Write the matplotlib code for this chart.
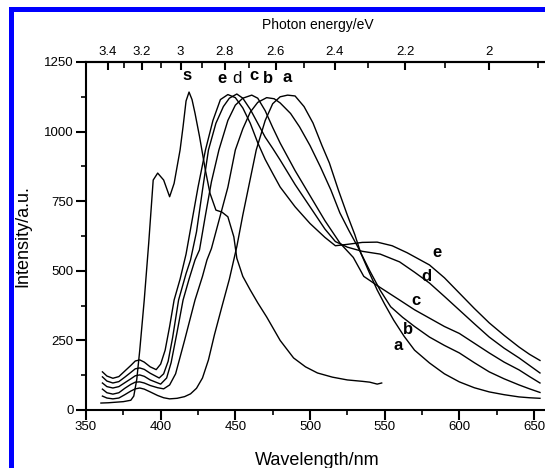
import numpy as np
import matplotlib
matplotlib.use('Agg')
import matplotlib.pyplot as plt
from matplotlib.patches import Rectangle
from matplotlib.ticker import MultipleLocator, FixedLocator

plt.rcParams['font.family'] = ['Liberation Sans', 'DejaVu Sans']

# ---- data ----
wl_s = [360, 365, 370, 375, 380, 382, 384, 386, 389, 392, 395, 398, 402, 406, 409, 413, 415, 417, 419, 421,
        423, 426, 430, 433, 437, 441, 445, 449, 451, 455, 460, 465, 471, 480, 489, 497, 505, 515, 525, 535,
        540, 545, 548]
I_s = [25, 26, 28, 30, 35, 50, 110, 215, 395, 600, 826, 851, 826, 766, 814, 934, 1018, 1110, 1142, 1115,
       1066, 983, 860, 779, 718, 711, 694, 622, 545, 480, 431, 385, 334, 250, 187, 155, 133, 118, 108, 103,
       100, 93, 97]

wl_e = [361, 364, 368, 372, 376, 380, 383, 386, 389, 393, 397, 400, 403, 406, 409, 413, 417, 421, 425, 430,
        435, 440, 445, 450, 455, 460, 465, 470, 475, 480, 490, 500, 510, 517, 525, 535, 545, 555, 565, 580,
        590, 600, 610, 620, 630, 640, 647, 654]
I_e = [137, 122, 114, 120, 140, 160, 176, 180, 172, 155, 145, 165, 215, 300, 395, 470, 560, 680, 800, 934,
       1040, 1115, 1133, 1122, 1085, 1030, 960, 900, 850, 801, 730, 670, 620, 590, 595, 602, 603, 590, 565, 521,
       475, 420, 365, 313, 268, 226, 200, 178]

wl_d = [361, 364, 368, 372, 376, 380, 383, 386, 389, 393, 399, 402, 405, 408, 412, 417, 420, 424, 428, 432,
        437, 442, 446, 451, 455, 460, 465, 470, 475, 480, 490, 500, 510, 517, 525, 535, 547, 560, 570, 580,
        590, 600, 610, 620, 630, 640, 647, 654]
I_d = [119, 104, 97, 102, 118, 135, 148, 151, 146, 132, 115, 130, 175, 260, 395, 490, 539, 640, 790, 934,
       1030, 1090, 1120, 1135, 1120, 1080, 1030, 980, 940, 898, 810, 730, 650, 605, 585, 570, 560, 532, 495, 456,
       408, 359, 310, 262, 222, 187, 160, 133]

wl_c = [361, 364, 368, 372, 376, 380, 383, 386, 389, 393, 400, 404, 407, 411, 415, 419, 423, 426, 430, 434,
        439, 445, 450, 455, 461, 465, 470, 475, 480, 490, 500, 510, 520, 529, 536, 547, 560, 570, 580, 590,
        600, 610, 620, 630, 640, 647, 654]
I_c = [97, 84, 79, 84, 98, 112, 123, 126, 121, 108, 93, 115, 170, 280, 395, 470, 539, 575, 700, 820,
       934, 1040, 1095, 1120, 1131, 1120, 1075, 1015, 959, 860, 770, 680, 600, 548, 480, 440, 395, 360, 330, 300,
       275, 240, 205, 172, 144, 120, 97]

wl_b = [361, 364, 368, 372, 376, 380, 383, 386, 389, 393, 398, 402, 406, 410, 416, 423, 428, 431, 434, 440,
        445, 450, 455, 460, 465, 471, 476, 480, 487, 493, 500, 507, 514, 520, 526, 532, 540, 547, 554, 562,
        570, 580, 590, 600, 610, 620, 630, 640, 647, 654]
I_b = [75, 62, 57, 62, 78, 92, 100, 101, 97, 88, 80, 76, 90, 130, 250, 395, 480, 539, 580, 700,
       800, 934, 1010, 1070, 1105, 1122, 1118, 1103, 1065, 1017, 950, 873, 790, 708, 645, 586, 500, 430, 371, 333,
       300, 262, 232, 205, 170, 137, 112, 90, 76, 63]

wl_a = [361, 364, 368, 372, 376, 380, 383, 386, 389, 393, 398, 402, 406, 411, 416, 420, 424, 428, 432, 436,
        441, 446, 451, 455, 460, 464, 470, 475, 480, 485, 490, 496, 502, 508, 513, 519, 525, 530, 534, 540,
        545, 550, 556, 563, 570, 580, 590, 600, 610, 620, 630, 640, 647, 654]
I_a = [50, 43, 40, 43, 55, 68, 76, 79, 75, 65, 52, 44, 40, 42, 48, 58, 78, 115, 180, 270,
       371, 470, 587, 700, 830, 934, 1040, 1100, 1125, 1131, 1128, 1090, 1031, 950, 887, 790, 700, 630, 564, 490,
       431, 380, 323, 265, 215, 169, 130, 101, 80, 65, 55, 47, 44, 42]

series = [(wl_s, I_s), (wl_e, I_e), (wl_d, I_d), (wl_c, I_c), (wl_b, I_b), (wl_a, I_a)]

top_labels = ['s', 'e', 'd', 'c', 'b', 'a']
top_label_x = [417.6, 441, 451, 462.5, 472, 485]
top_label_y = [1203, 1189, 1189, 1200, 1189, 1196]
top_label_bold = [True, True, False, True, True, True]

side_labels = ['e', 'd', 'c', 'b', 'a']
side_label_x = [584.8, 578, 571, 565.5, 559]
side_label_y = [565, 481, 393, 290, 230]

energy_major = [3.4, 3.2, 3.0, 2.8, 2.6, 2.4, 2.2, 2.0]
energy_major_lbl = ['3.4', '3.2', '3', '2.8', '2.6', '2.4', '2.2', '2']
energy_minor = [3.3, 3.1, 2.9, 2.7, 2.5, 2.3, 2.1, 1.9]

# ---- figure ----
W, H = 545, 468
fig = plt.figure(figsize=(W / 100, H / 100), dpi=100)
x0, x1, y0, y1 = 350, 660, 0, 1250
px_per_nm = (534 - 86) / 300.0
right_px = 86 + (x1 - x0) * px_per_nm
ax = fig.add_axes([86 / W, 1 - 410 / H, (right_px - 86) / W, (410 - 62) / H])

for wl, I in series:
    ax.plot(wl, I, color='black', lw=1.0)

ax.set_xlim(x0, x1)
ax.set_ylim(y0, y1)
ax.xaxis.set_major_locator(MultipleLocator(50))
ax.xaxis.set_minor_locator(MultipleLocator(25))
ax.yaxis.set_major_locator(MultipleLocator(250))
ax.yaxis.set_minor_locator(MultipleLocator(125))
for sp in ax.spines.values():
    sp.set_linewidth(1.5)
ax.spines['right'].set_visible(False)
ax.tick_params(which='major', direction='out', length=7, width=1.5, labelsize=9.5, pad=1)
ax.tick_params(which='minor', direction='out', length=3.5, width=1.2)
ax.tick_params(axis='x', top=False)
ax.tick_params(axis='y', pad=2)

ax.set_xlabel('Wavelength/nm', fontsize=13, labelpad=13.5)
ax.set_ylabel('Intensity/a.u.', fontsize=13, labelpad=9)

def to_e(x):
    x = np.asarray(x, dtype=float)
    with np.errstate(divide='ignore', invalid='ignore'):
        return np.where(x != 0, 1240.0 / x, np.inf)

sec = ax.secondary_xaxis('top', functions=(to_e, to_e))
sec.xaxis.set_major_locator(FixedLocator(energy_major))
sec.set_xticklabels(energy_major_lbl)
sec.xaxis.set_minor_locator(FixedLocator(energy_minor))
sec.tick_params(which='major', direction='in', length=6, width=1.5, labelsize=9.5, pad=3)
sec.tick_params(which='minor', direction='in', length=4, width=1.2)
sec.spines['top'].set_linewidth(1.5)
sec.set_xlabel('Photon energy/eV', fontsize=10, labelpad=12)

for t, x, y, b in zip(top_labels, top_label_x, top_label_y, top_label_bold):
    ax.text(x, y, t, fontsize=12, fontweight='bold' if b else 'normal', ha='center', va='center')
for t, x, y in zip(side_labels, side_label_x, side_label_y):
    ax.text(x, y, t, fontsize=12, fontweight='bold', ha='center', va='center')

# blue frame (left and top bars)
fig.add_artist(Rectangle((9 / W, 0), 4.5 / W, (H - 7) / H, transform=fig.transFigure,
                         color='#0000ff', lw=0))
fig.add_artist(Rectangle((9 / W, (H - 12) / H), 1 - 9 / W, 5 / H, transform=fig.transFigure,
                         color='#0000ff', lw=0))

fig.savefig('out.png', dpi=100)
